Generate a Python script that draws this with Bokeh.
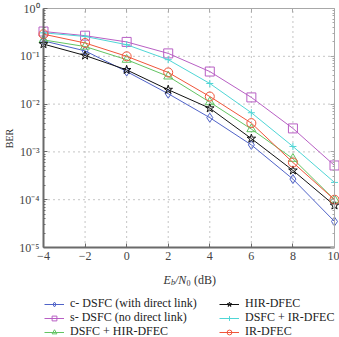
from bokeh.plotting import figure
from bokeh.models import (LogAxis, LinearAxis, FixedTicker, CustomJSTickFormatter,
                          Legend, LegendItem, Label, Range1d)
from bokeh.embed import file_html
from bokeh.resources import INLINE

# Eb/N0 (dB)
snr = [-4, -2, 0, 2, 4, 6, 8, 10]

# BER curves
ber_c_dsfc = [0.21, 0.13, 0.048, 0.0165, 0.0052, 0.0014, 0.00027, 0.000035]
ber_s_dsfc = [0.33, 0.27, 0.20, 0.115, 0.048, 0.0138, 0.0031, 0.00052]
ber_dsfc_hir = [0.22, 0.16, 0.085, 0.038, 0.011, 0.0030, 0.00072, 0.00010]
ber_hir = [0.18, 0.104, 0.052, 0.020, 0.0082, 0.0019, 0.00041, 0.000076]
ber_dsfc_ir = [0.31, 0.26, 0.175, 0.085, 0.027, 0.0066, 0.0013, 0.00023]
ber_ir = [0.29, 0.19, 0.10, 0.046, 0.0144, 0.0040, 0.00060, 0.00010]

x_ticks = [-4, -2, 0, 2, 4, 6, 8, 10]
y_ticks = [1e-5, 1e-4, 1e-3, 1e-2, 1e-1, 1]
y_minor = [m * 10 ** k for k in range(-5, 0) for m in range(2, 10)]

series = [
    ("c- DSFC (with direct link)", ber_c_dsfc, "#5063c8", "diamond"),
    ("s- DSFC (no direct link)", ber_s_dsfc, "#b85fc4", "square"),
    ("DSFC + HIR-DFEC", ber_dsfc_hir, "#63c463", "triangle"),
    ("HIR-DFEC", ber_hir, "#111111", "star"),
    ("DSFC + IR-DFEC", ber_dsfc_ir, "#4fd6d6", "cross"),
    ("IR-DFEC", ber_ir, "#f0553a", "circle"),
]

FONT = "Liberation Serif"
AX = "#6a6a6a"
EDGE = "#a8a8a8"
GRID = "#8a8a8a"

# The frame covers the whole canvas, so legend and titles sit inside it;
# the axes are pinned to the -4..10 / 1e-5..1 data window.
px_per_db = 291 / 14
px_per_dec = 47.8
x_lo = -4 - 43 / px_per_db
x_hi = 10 + 5 / px_per_db
y_lo = 10 ** (-5 - 90 / px_per_dec)
y_hi = 10 ** (8 / px_per_dec)
p = figure(width=339, height=337, output_backend="svg", toolbar_location=None,
           y_axis_type="log", x_axis_location=None, y_axis_location=None,
           x_range=Range1d(x_lo, x_hi), y_range=Range1d(y_lo, y_hi),
           min_border_left=0, min_border_right=0, min_border_top=0, min_border_bottom=0)
p.outline_line_color = None

pow_fmt = CustomJSTickFormatter(code="""
const e = Math.round(Math.log10(tick));
const sup = {'-':'\u207b','0':'\u2070','1':'\u00b9','2':'\u00b2','3':'\u00b3','4':'\u2074','5':'\u2075'};
return '10' + String(e).split('').map(c => sup[c]).join('');
""")
minus_fmt = CustomJSTickFormatter(code="return String(tick).replace('-', '\u2212');")
blank_fmt = CustomJSTickFormatter(code="return '.';")

left = LogAxis(ticker=FixedTicker(ticks=y_ticks, minor_ticks=y_minor), formatter=pow_fmt,
               fixed_location=-4, bounds=(1e-5, 1))
bottom = LinearAxis(ticker=FixedTicker(ticks=x_ticks), formatter=minus_fmt,
                    fixed_location=1e-5, bounds=(-4, 10))
for ax in (left, bottom):
    ax.axis_line_color = AX
    ax.axis_line_width = 2
    ax.major_tick_line_color = AX
    ax.minor_tick_line_color = AX
    ax.major_tick_in = 4
    ax.major_tick_out = 0
    ax.minor_tick_in = 2
    ax.minor_tick_out = 0
    ax.major_label_text_font = FONT
    ax.major_label_text_font_size = "12px"
    ax.major_label_text_color = "#444444"
    ax.major_label_standoff = 4
bottom.minor_tick_line_color = None
p.add_layout(left, "left")
p.add_layout(bottom, "below")

# light right and top frame edges with inward ticks
right = LogAxis(ticker=FixedTicker(ticks=y_ticks, minor_ticks=y_minor), formatter=blank_fmt,
                fixed_location=10, bounds=(1e-5, 1),
                major_label_text_font_size="1px", major_label_text_alpha=0, major_label_standoff=0)
top = LinearAxis(ticker=FixedTicker(ticks=x_ticks), formatter=blank_fmt, fixed_location=1,
                 bounds=(-4, 10),
                 major_label_text_font_size="1px", major_label_text_alpha=0, major_label_standoff=0)
for ax in (right, top):
    ax.axis_line_color = EDGE
    ax.major_tick_line_color = EDGE
    ax.minor_tick_line_color = EDGE
    ax.major_tick_in = 4
    ax.major_tick_out = 0
    ax.minor_tick_in = 2
    ax.minor_tick_out = 0
top.minor_tick_line_color = None
p.add_layout(right, "right")
p.add_layout(top, "above")

# dotted grid inside the data window
p.grid.visible = False
inner_x = x_ticks[1:-1]
inner_y = y_ticks[1:-1]
p.segment(x0=inner_x, y0=[y_ticks[0]] * len(inner_x), x1=inner_x, y1=[y_ticks[-1]] * len(inner_x),
          line_color=GRID, line_dash="1 4", line_width=1)
p.segment(x0=[x_ticks[0]] * len(inner_y), y0=inner_y, x1=[x_ticks[-1]] * len(inner_y), y1=inner_y,
          line_color=GRID, line_dash="1 4", line_width=1)

items = []
for name, ys, color, marker in series:
    ln = p.line(snr, ys, line_color=color, line_width=1)
    mk = p.scatter(snr, ys, marker=marker, size=9 if marker != "cross" else 7,
                   line_color=color, fill_color=None, line_width=1)
    items.append(LegendItem(label=name, renderers=[ln, mk]))

# legend: three rows of two entries (left column = first three series)
for row, y_loc in enumerate([26, 12, -2]):
    p.add_layout(Legend(items=[items[row], items[row + 3]], location=(44, y_loc),
                        orientation="horizontal",
                        label_text_font=FONT, label_text_font_size="12px", label_text_color="#222222",
                        glyph_width=20, glyph_height=12, label_height=12, label_width=147,
                        label_standoff=6, spacing=2, padding=0, margin=0,
                        border_line_color=None, background_fill_alpha=0), "center")

# y title
p.add_layout(Label(x=9, y=199, x_units="screen", y_units="screen", text="BER", angle=1.5708,
                   text_font=FONT, text_font_size="10px", text_color="#333333",
                   text_align="center", text_baseline="middle"))

# x title: E_b/N_0 (dB)
xl_y = 58
parts = [("E", 0, 0, "12px", "italic"), ("b", 7.5, -3, "8px", "italic"), ("/N", 11.5, 0, "12px", "italic"),
         ("0", 23, -3, "8px", "normal"), ("(dB)", 30.5, 0, "12px", "normal")]
x0 = 163
for txt, dx, dy, fs, st in parts:
    p.add_layout(Label(x=x0 + dx, y=xl_y + dy, x_units="screen", y_units="screen", text=txt,
                       text_font=FONT, text_font_size=fs, text_font_style=st, text_color="#333333",
                       text_baseline="middle"))

open("out.html", "w").write(file_html(p, INLINE))
